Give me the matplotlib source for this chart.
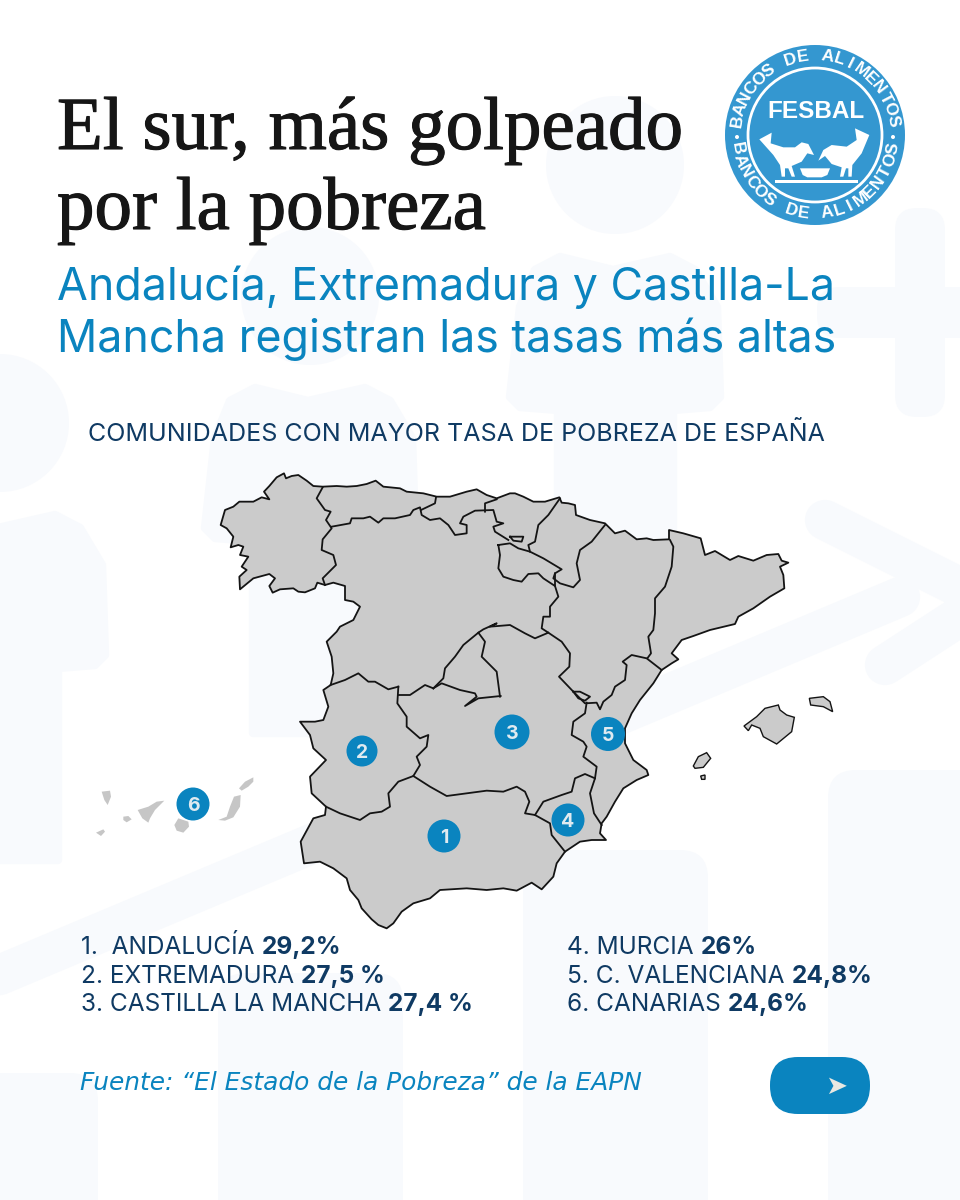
import numpy as np
import matplotlib
matplotlib.use("Agg")
import matplotlib.pyplot as plt
import matplotlib.patheffects as pe
from matplotlib.patches import Polygon, Circle, FancyBboxPatch, Rectangle

TITLE = ["El sur, más golpeado", "por la pobreza"]
SUBTITLE = ["Andalucía, Extremadura y Castilla-La", "Mancha registran las tasas más altas"]
HEADING = "COMUNIDADES CON MAYOR TASA DE POBREZA DE ESPAÑA"
SOURCE = "Fuente: “El Estado de la Pobreza” de la EAPN"
ROW_LABELS = ["1.  ANDALUCÍA", "2. EXTREMADURA", "3. CASTILLA LA MANCHA",
              "4. MURCIA", "5. C. VALENCIANA", "6. CANARIAS"]
ROW_VALUES = ["29,2%", "27,5 %", "27,4 %", "26%", "24,8%", "24,6%"]

BLUE = "#0a84bf"; NAVY = "#0f3a63"; GREY = "#cbcbcb"; PALE = "#f8fafd"; LOGO = "#3497d0"; LINE = "#141414"

def z(ox, oy, pts):
    return [(ox + x / 3, oy + y / 3) for x, y in pts]
Z1 = (210, 460); Z2 = (490, 480); Z3 = (290, 660); Z4 = (720, 40); Z5 = (85, 760)

MAINLAND = (
    z(*Z1, [(310,78),(338,80),(380,78),(410,80),(440,78),(470,72),(497,62),(520,80),(570,85),(590,95),(640,100),(680,110),(720,110),(770,95),(800,88),(830,105),(860,115),(900,100)])
    + z(*Z2, [(75,40),(100,50),(130,65),(165,65),(208,52),(215,68),(235,70),(255,75),(258,105),(300,120),(345,130),(375,160),(405,152),(440,178),(470,175),(490,180),(537,178),(537,150),(580,160),(632,175),(645,225),(675,213),(720,240),(745,228),(790,242),(830,225),(865,222),(875,242),(895,248),(870,260),(880,285),(883,325),(840,350),(790,385),(745,410),(735,432),(660,450),(610,468),(575,480),(545,520),(565,538),(545,550),(515,570),(490,610),(450,660),(425,700),(405,745),(405,790),(430,840),(470,870)])
    + z(*Z3, [(1075,345),(1040,360),(1000,385),(975,425),(950,470),(935,490),(930,520),(948,540),(905,540),(870,545),(825,575),(800,610),(790,650),(755,688),(725,668),(680,692),(640,685),(590,690),(530,685),(450,690),(420,715),(370,730),(335,755),(310,790),(290,805),(265,795),(245,778),(215,745),(205,720),(180,690),(170,655),(130,625),(90,605),(42,610),(32,545),(70,475),(105,465),(108,440),(65,400),(60,350),(108,300),(70,265),(60,225),(30,185),(75,185),(100,180),(115,140),(100,90),(122,75)])
    + z(*Z1, [(370,640),(365,590),(350,545),(380,515),(390,500),(430,480),(450,440),(430,425),(405,420),(405,378),(370,368),(345,375),(322,368),(315,385),(285,397),(265,395),(250,385),(210,388),(188,398),(178,378),(195,355),(178,342),(130,355),(90,388),(88,350),(110,330),(95,320),(115,290),(90,285),(100,260),(85,255),(62,262),(70,230),(50,205),(32,195),(45,150),(70,140),(88,125),(130,125),(155,112),(178,118),(162,95),(178,78),(200,52),(222,40),(228,55),(245,48),(265,45),(290,62)])
)
BORDERS = [
    z(*Z1, [(338,82),(320,115),(345,150),(362,155),(348,180),(365,205),(338,238),(335,270),(370,285),(378,315),(338,355),(345,375)]),
    z(*Z1, [(365,200),(420,190),(425,175),(460,175),(480,170),(505,188),(520,175),(555,175),(600,165),(610,150),(630,142),(635,165),(660,180),(690,175),(715,195),(735,225),(770,220),(770,195),(750,190),(760,170),(795,152),(850,150),(860,185),(880,190),(850,200),(855,215),(895,240)]),
    z(*Z1, [(678,112),(675,130),(633,150)]),
    z(*Z1, [(860,118),(825,130),(825,155)]),
    z(*Z2, [(25,195),(60,190),(85,205),(120,215),(160,235),(215,268),(195,280),(195,318),(160,295),(145,280),(115,282),(95,305),(70,300),(40,290),(25,265),(30,225),(25,195)]),
    z(*Z2, [(60,170),(100,170),(95,185),(70,182),(60,170)]),
    z(*Z2, [(210,55),(175,105),(145,135),(135,185),(115,195),(120,215)]),
    z(*Z2, [(345,135),(305,185),(270,210),(260,250),(270,300),(250,322),(210,310),(190,295),(195,280)]),
    z(*Z2, [(195,318),(205,350),(180,380),(180,410),(160,410),(155,445),(175,458),(135,475),(105,460),(60,435),(0,440)]) + z(*Z1, [(860,490),(820,508),(805,518),(760,555),(735,590),(705,625),(700,655),(670,685)]),
    z(*Z1, [(805,518),(825,545),(815,590),(860,635),(870,710)]),
    z(*Z3, [(430,85),(455,70),(510,90),(555,100),(560,110),(525,138),(565,115),(632,108)]),
    z(*Z3, [(430,85),(405,75),(360,105),(325,105)]),
    z(*Z3, [(325,80),(295,88),(255,65),(235,65),(205,40),(165,60),(122,75)]),
    z(*Z3, [(325,80),(322,130),(350,170),(350,200),(390,235),(415,225),(410,260),(380,290),(390,315),(370,348),(325,365),(295,400),(300,440),(275,455),(240,460),(210,480),(150,460),(108,440)]),
    z(*Z3, [(370,348),(420,380),(470,408),(530,400),(590,392),(640,395),(680,380),(705,395),(718,425),(705,460),(735,465),(780,490),(785,525),(825,575)]),
    z(*Z3, [(735,465),(760,425),(815,405),(845,395),(855,355),(885,342),(915,355),(900,400),(912,460),(935,495)]),
    z(*Z3, [(915,355),(920,320),(880,290),(890,260),(880,245),(845,225),(850,185),(885,160),(890,128)]),
    z(*Z2, [(175,458),(215,485),(240,520),(238,560),(207,590),(250,635),(285,670),(320,668),(330,688),(340,665),(365,645),(375,620),(405,600),(410,555),(398,545),(425,525),(470,535),(515,570)]),
    z(*Z2, [(250,635),(270,635),(300,650),(285,662),(265,655),(250,635)]),
    z(*Z2, [(540,180),(550,200),(545,260),(525,320),(495,355),(495,400),(490,450),(475,470),(483,520),(472,535)]),
]
BALEARICS = [
    z(*Z2, [(762,738),(800,710),(825,685),(865,675),(870,690),(890,705),(913,712),(905,755),(860,792),(820,770),(810,745),(785,735),(775,752)]),
    z(*Z2, [(958,655),(1000,650),(1020,665),(1028,695),(1000,680),(962,675)]),
    z(*Z2, [(610,858),(625,830),(650,818),(662,835),(640,862),(615,865)]),
    z(*Z2, [(632,888),(645,885),(645,898),(635,898)]),
]
CANARIES = [
    z(*Z5, [(50,95),(75,92),(78,110),(68,135),(58,120)]),
    z(*Z5, [(33,218),(55,208),(60,215),(48,228)]),
    z(*Z5, [(115,170),(130,168),(140,178),(125,187),(115,180)]),
    z(*Z5, [(158,150),(190,140),(215,125),(238,122),(210,150),(195,175),(190,188),(172,175)]),
    z(*Z5, [(268,195),(280,175),(310,185),(312,200),(295,218),(275,212)]),
    z(*Z5, [(400,180),(425,170),(435,140),(447,110),(467,105),(465,140),(445,172),(420,182)]),
    z(*Z5, [(462,85),(480,65),(505,52),(505,65),(490,80),(470,92)]),
]
MARKERS = {"1": (444, 836, 16.5), "2": (362, 751, 15.5), "3": (512, 732, 17.5), "4": (568, 820, 16.5), "5": (608, 734, 17), "6": (193, 804, 16.5)}

# pale background: heads, shirts, bars, plus sign, arrow
HEADS = [(0, 423, 69), (310, 296, 69), (615, 165, 69)]
SHIRT = [(-55,92),(-2,105),(55,92),(80,105),(102,142),(105,232),(95,242),(58,245),(58,437),(-57,437),(-57,245),(-95,242),(-105,232),(-95,142),(-80,105)]
BARS = [(-87, 1073), (218, 973), (523, 850), (828, 770)]
BAR_W = 185
PLUS = [(895, 208, 50, 209), (817, 287, 180, 51)]
ARROW_LINES = [[(-60, 1000), (900, 597)], [(825, 520), (985, 600), (885, 665)]]

LOGO_BIRDS = [
    z(*Z4, [(118,298),(155,278),(152,310),(190,322),(225,322),(245,307),(265,312),(282,345),(262,340),(245,365),(215,378),(225,410),(215,410),(205,385),(195,385),(195,410),(185,410),(180,375),(160,345)]),
    z(*Z4, [(448,285),(405,265),(410,300),(380,320),(335,315),(310,330),(295,362),(315,348),(335,372),(365,382),(360,410),(370,410),(378,385),(385,385),(385,410),(395,410),(397,375),(425,340)]),
    z(*Z4, [(240,385),(330,385),(322,405),(305,412),(262,412),(248,405)]),
]
LOGO_ARC = "BANCOS DE ALIMENTOS"

fig = plt.figure(figsize=(9.6, 12), dpi=100, facecolor="white")
ax = fig.add_axes([0, 0, 1, 1])
ax.set_xlim(0, 960); ax.set_ylim(1200, 0); ax.axis("off")

for x, y, r in HEADS:
    ax.add_patch(Circle((x, y), r, fc=PALE, ec="none", zorder=1))
    ax.add_patch(Polygon([(x + dx, y + dy) for dx, dy in SHIRT], closed=True, fc=PALE, ec=PALE, lw=6, joinstyle="round", zorder=1))
for x0, top in BARS:
    ax.add_patch(FancyBboxPatch((x0, top), BAR_W, 500, boxstyle="round,pad=0,rounding_size=28", fc=PALE, ec="none", zorder=1))
for x, y, w, h in PLUS:
    ax.add_patch(FancyBboxPatch((x, y), w, h, boxstyle="round,pad=0,rounding_size=22", fc=PALE, ec="none", zorder=1))
for l in ARROW_LINES:
    xs, ys = zip(*l)
    ax.plot(xs, ys, color=PALE, lw=29, solid_capstyle="round", solid_joinstyle="round", zorder=1)

ax.add_patch(Polygon(MAINLAND, closed=True, fc=GREY, ec=LINE, lw=1.3, joinstyle="round", zorder=3))
for b in BORDERS:
    xs, ys = zip(*b)
    ax.plot(xs, ys, color=LINE, lw=1.3, solid_joinstyle="round", zorder=4)
for p in BALEARICS:
    ax.add_patch(Polygon(p, closed=True, fc=GREY, ec=LINE, lw=1.0, zorder=3))
for p in CANARIES:
    ax.add_patch(Polygon(p, closed=True, fc="#c6c6c6", ec="none", zorder=3))
for k, (x, y, r) in MARKERS.items():
    ax.add_patch(Circle((x, y), r, fc=BLUE, ec="none", zorder=5))
    ax.text(x, y, k, color="#dfeaf0", fontsize=14, fontweight="bold", family="Inter",
            ha="center", va="center_baseline", zorder=6)

for t, y in zip(TITLE, (149, 229)):
    ax.text(57, y, t, fontsize=54, family="Liberation Serif", color="#161616", va="baseline", zorder=7,
            path_effects=[pe.withStroke(linewidth=0.8, foreground="#161616")])
for t, y in zip(SUBTITLE, (300, 352)):
    ax.text(57, y, t, fontsize=32.2, family="Inter", color=BLUE, va="baseline", zorder=7)
ax.text(456.5, 441, HEADING, fontsize=18, family="Inter", color=NAVY, ha="center", va="baseline", zorder=7)

fig.canvas.draw()
rend = fig.canvas.get_renderer()
def row(x, y, label, value):
    t = ax.text(x, y, label, fontsize=17.6, family="Inter", color=NAVY, va="baseline", zorder=7)
    e = t.get_window_extent(rend)
    ax.text(e.x1 + 7, y, value, fontsize=17.6, family="Inter", fontweight="bold", color=NAVY, va="baseline", zorder=7)
XS = [81, 81, 81, 567, 567, 567]; YS = [954, 983, 1011, 954, 983, 1011]
for x, y, l, v in zip(XS, YS, ROW_LABELS, ROW_VALUES):
    row(x, y, l, v)

ax.text(80, 1090, SOURCE, fontsize=17.9, family="DejaVu Sans", style="italic", color=BLUE, va="baseline", zorder=7)
ax.add_patch(FancyBboxPatch((770, 1057), 100, 57, boxstyle="round,pad=0,rounding_size=28", fc=BLUE, ec="none", zorder=7))
ax.text(836, 1087, "➤", fontsize=19, family="DejaVu Sans", color="#e8e8e2", ha="center", va="center", zorder=8)

# logo
cx, cy = 815, 135
ax.add_patch(Circle((cx, cy), 90, fc=LOGO, ec="none", zorder=7))
ax.add_patch(Circle((cx, cy), 67, fc="none", ec="white", lw=2, zorder=8))
ax.text(cx + 1, 112, "FESBAL", fontsize=17.5, fontweight="bold", family="Liberation Sans", color="white", ha="center", va="center", zorder=9)
for p in LOGO_BIRDS:
    ax.add_patch(Polygon(p, closed=True, fc="white", ec="none", zorder=9))
ax.add_patch(Rectangle((775, 180), 83, 3, fc="white", ec="none", zorder=9))
for i, ch in enumerate(LOGO_ARC):
    a = np.radians(170 - i * 160 / (len(LOGO_ARC) - 1))
    ax.text(cx + 79 * np.cos(a), cy - 79 * np.sin(a), ch, fontsize=12.5, fontweight="bold", family="Liberation Sans", color="white",
            rotation=np.degrees(a) - 90, rotation_mode="anchor", ha="center", va="center", zorder=9)
    a = np.radians(190 + i * 160 / (len(LOGO_ARC) - 1))
    ax.text(cx + 79 * np.cos(a), cy - 79 * np.sin(a), ch, fontsize=12.5, fontweight="bold", family="Liberation Sans", color="white",
            rotation=np.degrees(a) + 90, rotation_mode="anchor", ha="center", va="center", zorder=9)
for s in (-1, 1):
    ax.add_patch(Circle((cx + s * 78, cy + 2), 2, fc="white", ec="none", zorder=9))

fig.savefig("out.png", dpi=100, facecolor="white")
